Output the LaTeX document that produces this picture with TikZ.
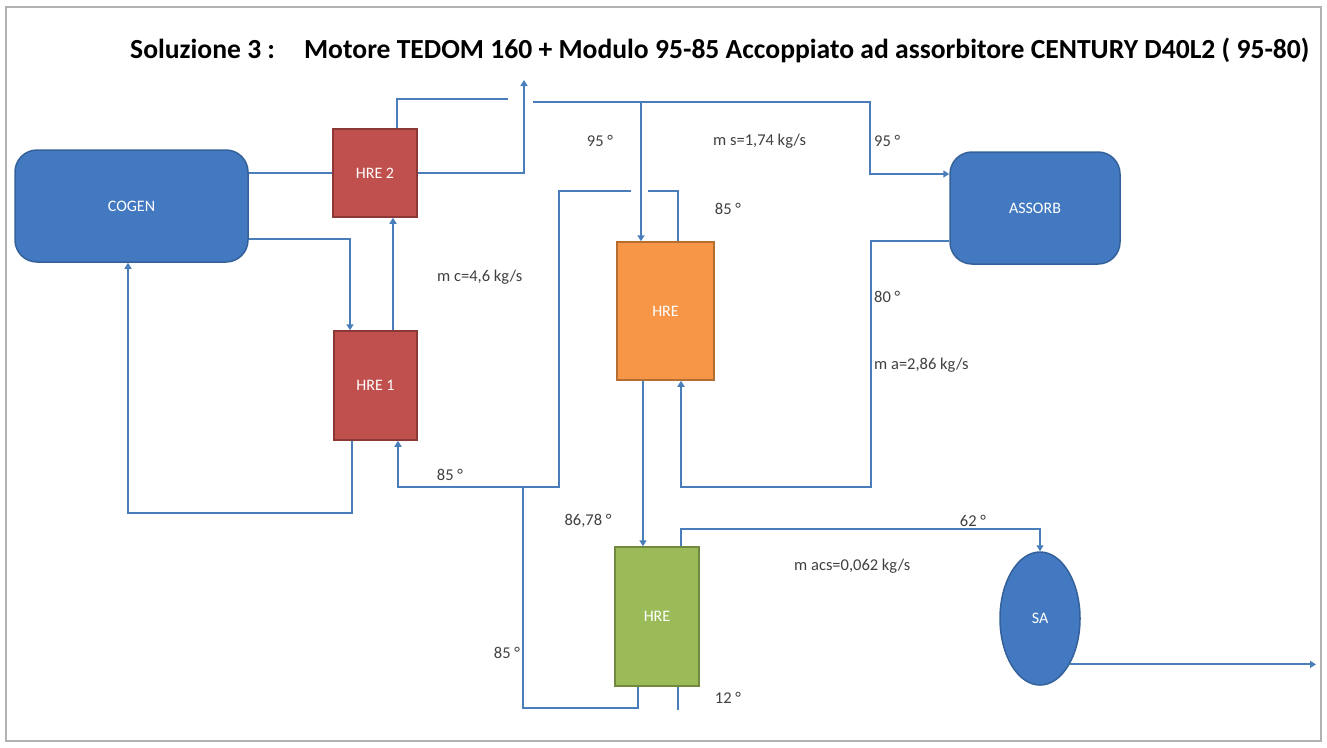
\documentclass[tikz,border=0pt]{standalone}
\usepackage{fontspec}
\setmainfont{Carlito}
\usetikzlibrary{arrows.meta,shapes.geometric,calc}
\definecolor{lineblue}{HTML}{4A7EBB}
\definecolor{boxblue}{HTML}{4279C0}
\definecolor{boxblueb}{HTML}{35619A}
\definecolor{hred}{HTML}{C0504D}
\definecolor{hredb}{HTML}{8C3836}
\definecolor{horange}{HTML}{F79646}
\definecolor{horangeb}{HTML}{B66D31}
\definecolor{hgreen}{HTML}{9BBB59}
\definecolor{hgreenb}{HTML}{71893F}
\definecolor{labtext}{HTML}{404040}
\tikzset{
  box/.style={draw, line width=1.5pt, inner sep=0pt, text=white, font=\fontsize{16}{19}\selectfont},
  bluebox/.style={box, fill=boxblue, draw=boxblueb},
  redbox/.style={box, fill=hred, draw=hredb},
  lab/.style={text=labtext, font=\fontsize{16.5}{19}\selectfont, inner sep=0pt},
  flow/.style={draw=lineblue, line width=2pt},
  arr/.style={flow, -{Triangle[width=7pt,length=6pt]}}
}
\begin{document}
\begin{tikzpicture}[x=1pt,y=-1pt]
\useasboundingbox (0,0) rectangle (1327,747);
\fill[white] (0,0) rectangle (1327,747);
\draw[black!30, line width=2pt] (6,7) rectangle (1321,741);

\node[anchor=west, inner sep=0pt, font=\bfseries\fontsize{27.6}{32}\selectfont] (title) at (130,50)
  {Soluzione 3 :\hspace{29pt}Motore TEDOM 160 + Modulo 95-85 Accoppiato ad assorbitore CENTURY D40L2 ( 95-80)};

% boxes
\node[bluebox, rounded corners=22pt, minimum width=233pt, minimum height=112pt] (cogen) at (131.5,206) {COGEN};
\node[redbox, minimum width=84pt, minimum height=88pt] (hre2) at (375,173) {HRE 2};
\node[redbox, minimum width=83pt, minimum height=109pt] (hre1) at (375.5,385.5) {HRE 1};
\node[box, fill=horange, draw=horangeb, minimum width=97pt, minimum height=138pt] (hreo) at (665.5,311) {HRE};
\node[box, fill=hgreen, draw=hgreenb, minimum width=84pt, minimum height=139pt] (hreg) at (657,616.5) {HRE};
\node[bluebox, rounded corners=22pt, minimum width=170pt, minimum height=112pt] (assorb) at (1035,208) {ASSORB};
\node[bluebox, ellipse, minimum width=80pt, minimum height=133pt] (sa) at (1040,618.5) {SA};

% waypoints
\coordinate (a1) at (350,239);
\coordinate (a2) at (393,0);
\coordinate (a3) at (352,513);
\coordinate (a4) at (128,0);
\coordinate (b1) at (678,191);
\coordinate (b2) at (648,191);
\coordinate (b3) at (631,191);
\coordinate (b4) at (559,487);
\coordinate (b5) at (398,487);
\coordinate (b6) at (523,487);
\coordinate (b7) at (638,708);
\coordinate (c1) at (397,99);
\coordinate (c2) at (508,99);
\coordinate (c3) at (533,102);
\coordinate (c4) at (870,102);
\coordinate (c5) at (870,174);
\coordinate (c6) at (641,102);
\coordinate (d1) at (524,173);
\coordinate (d2) at (524,80);
\coordinate (e1) at (871,241);
\coordinate (e2) at (871,487);
\coordinate (e3) at (681,487);
\coordinate (f1) at (643,0);
\coordinate (g1) at (681,529);
\coordinate (h1) at (678,710);
\coordinate (out) at (1316,0);

% connectors
\draw[flow] (cogen.east |- hre2.west) -- (hre2.west);
\draw[arr] (cogen.east |- a1) -| (hre1.north -| a1);
\draw[arr] (hre1.north -| a2) -- (hre2.south -| a2);
\draw[arr] (hre1.south -| a3) -- (a3) -| (cogen.south -| a4);
\draw[flow] (hreo.north -| b1) -- (b1) -- (b2);
\draw[arr] (b3) -| (b4) -- (b5) -- (hre1.south -| b5);
\draw[flow] (hreg.south -| b7) -- (b7) -| (b6);
\draw[flow] (hre2.north -| c1) -- (c1) -- (c2);
\draw[arr] (c3) -- (c4) -- (c5) -- (assorb.west |- c5);
\draw[arr] (c6) -- (hreo.north -| c6);
\draw[arr] (hre2.east) -- (d1) -- (d2);
\draw[arr] (assorb.west |- e1) -- (e1) -- (e2) -- (e3) -- (hreo.south -| e3);
\draw[arr] (hreo.south -| f1) -- (hreg.north -| f1);
\draw[arr] (hreg.north -| g1) -- (g1) -| (sa.north);
\draw[flow] (hreg.south -| h1) -- (h1);
\draw[arr] (sa.-57) -- (sa.-57 -| out);

% labels
\node[lab] (l1) at (600,141) {95 °};
\node[lab, anchor=west] (l2) at (713,141) {m s=1,74 kg/s};
\node[lab, anchor=west] (l3) at (874,141) {95 °};
\node[lab] (l4) at (728,209) {85 °};
\node[lab, anchor=west] (l5) at (437,277) {m c=4,6 kg/s};
\node[lab, anchor=west] (l6) at (874,297) {80 °};
\node[lab, anchor=west] (l7) at (874,365) {m a=2,86 kg/s};
\node[lab] (l8) at (450,475) {85 °};
\node[lab] (l9) at (588,521) {86,78 °};
\node[lab] (l10) at (973,521) {62 °};
\node[lab, anchor=west] (l11) at (794,566) {m acs=0,062 kg/s};
\node[lab] (l12) at (507,653) {85 °};
\node[lab] (l13) at (728,698) {12 °};
\end{tikzpicture}
\end{document}
